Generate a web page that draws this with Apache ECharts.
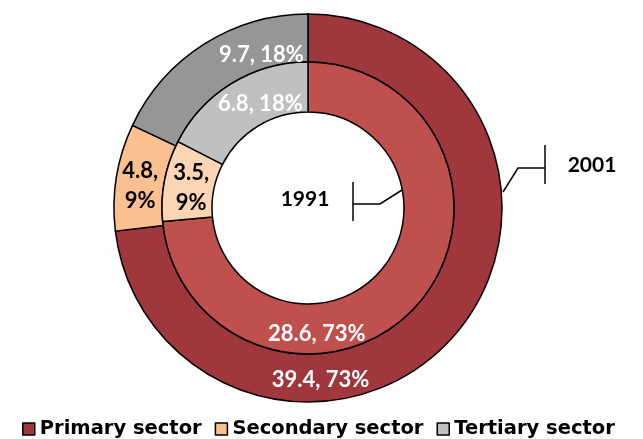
<!DOCTYPE html>
<html>
<head>
<meta charset="utf-8">
<script src="https://cdn.jsdelivr.net/npm/echarts@6/dist/echarts.min.js"></script>
<style>
  html, body { margin: 0; padding: 0; background: #fff; }
  #chart { width: 643px; height: 439px; }
</style>
</head>
<body>
<div id="chart"></div>
<script>
// sectors, values
const sectors = ['Primary sector', 'Secondary sector', 'Tertiary sector'];
const values2001 = [39.4, 4.8, 9.7];
const values1991 = [28.6, 3.5, 6.8];
const pct2001 = [73, 9, 18];
const pct1991 = [73, 9, 18];

const outerColors = ['#A0373C', '#FAC090', '#969696'];
const innerColors = ['#C0504D', '#FCD5B4', '#C0C0C0'];
const legendColors = ['#A0373C', '#FAC090', '#C0C0C0'];

const labelFont = 'Lato';

// excel puts the data labels off the sector middle, nudge them there
const outerOffsets = [[-117, 57], [3, 6], [46, -7]];
const innerOffsets = [[-83, 42], [5, 3], [17, 2]];

function _map(arr, fn) {
    let out = [];
    for (let i = 0; i < arr.length; i++) out.push(fn(arr[i], i));
    return out;
}

function buildData(vals, pcts, colors, offsets) {
    return _map(vals, (v, i) => {
        let secondary = i === 1;
        return {
            name: sectors[i],
            value: v,
            itemStyle: {color: colors[i]},
            label: {
                offset: offsets[i],
                color: secondary ? '#000' : '#fff',
                formatter: secondary ? v + ',\n' + pcts[i] + '%' : v + ', ' + pcts[i] + '%'
            }
        };
    });
}

let baseSeries = {
    type: 'pie',
    center: [308, 208],
    startAngle: 90,
    clockwise: true,
    silent: true,
    avoidLabelOverlap: false,
    itemStyle: {
        borderColor: '#000',
        borderWidth: 1.5
    },
    label: {
        show: true,
        position: 'inside',
        fontFamily: labelFont,
        fontWeight: 'bold',
        fontSize: 22,
        lineHeight: 30
    },
    labelLine: {show: false},
    emphasis: {disabled: true}
};

let option = {
    animation: false,
    backgroundColor: '#fff',
    legend: {
        left: 17,
        top: 414,
        icon: 'rect',
        itemWidth: 12,
        itemHeight: 12,
        itemGap: 13,
        textStyle: {
            fontFamily: 'DejaVu Sans',
            fontWeight: 'bold',
            fontSize: 19.5,
            color: '#000'
        },
        data: _map(sectors, (s, i) => ({
            name: s,
            itemStyle: {color: legendColors[i], borderColor: '#000', borderWidth: 1.5}
        }))
    },
    series: [
        Object.assign({}, baseSeries, {
            name: '2001',
            radius: [146, 194],
            data: buildData(values2001, pct2001, outerColors, outerOffsets)
        }),
        Object.assign({}, baseSeries, {
            name: '1991',
            radius: [96, 146],
            data: buildData(values1991, pct1991, innerColors, innerOffsets)
        })
    ],
    graphic: [
        // series name callouts
        {
            type: 'polyline',
            shape: {points: [[503, 192], [518, 168], [545, 168]]},
            style: {stroke: '#000', lineWidth: 1.5, fill: null}
        },
        {
            type: 'line',
            shape: {x1: 545, y1: 145, x2: 545, y2: 184},
            style: {stroke: '#000', lineWidth: 1.5}
        },
        {
            type: 'text',
            x: 592, y: 165,
            style: {
                text: '2001', fontFamily: labelFont, fontWeight: 'bold', fontSize: 21,
                fill: '#000', align: 'center', verticalAlign: 'middle'
            }
        },
        {
            type: 'polyline',
            shape: {points: [[402, 190], [380, 204], [353, 204]]},
            style: {stroke: '#000', lineWidth: 1.5, fill: null}
        },
        {
            type: 'line',
            shape: {x1: 353, y1: 182, x2: 353, y2: 221},
            style: {stroke: '#000', lineWidth: 1.5}
        },
        {
            type: 'text',
            x: 305, y: 199,
            style: {
                text: '1991', fontFamily: labelFont, fontWeight: 'bold', fontSize: 21,
                fill: '#000', align: 'center', verticalAlign: 'middle'
            }
        }
    ]
};

let chart = echarts.init(document.getElementById('chart'));
chart.setOption(option);
</script>
</body>
</html>
